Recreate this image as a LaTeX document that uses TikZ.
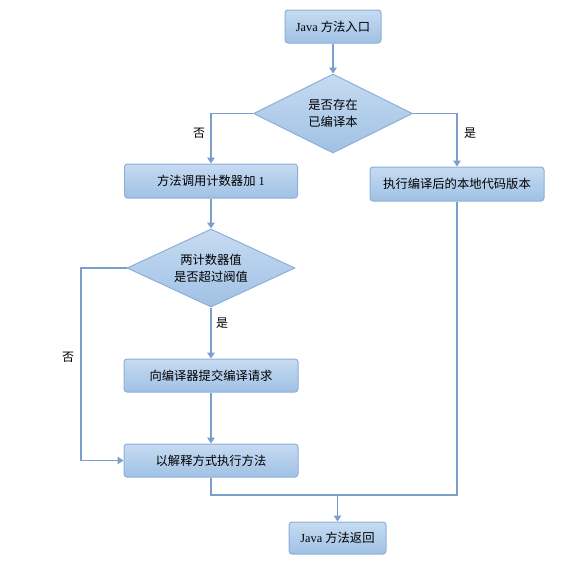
\documentclass[tikz,border=0pt]{standalone}
\usepackage{fontspec}
\setmainfont{Liberation Serif}
\newfontfamily\cjk{Noto Sans CJK SC}
\usetikzlibrary{arrows.meta,shapes.geometric}
\definecolor{linec}{HTML}{7B9FCA}
\definecolor{borderc}{HTML}{8DAFD9}
\definecolor{topc}{HTML}{C6DBF1}
\definecolor{botc}{HTML}{A0C1E5}
\tikzset{
  proc/.style={draw=borderc, line width=1pt, rounded corners=3pt, top color=topc, bottom color=botc, inner sep=0pt, font=\fontsize{12.3}{14}\selectfont},
  decis/.style={diamond, aspect=2, draw=borderc, line width=1pt, top color=topc, bottom color=botc, inner sep=0pt, align=center, font=\cjk\fontsize{12.3}{17}\selectfont},
  conn/.style={draw=linec, line width=1.4pt},
  arr/.style={conn, -{Triangle[length=6pt,width=7.5pt]}},
  lbl/.style={font=\cjk\fontsize{12}{14}\selectfont, inner sep=0pt}
}
\begin{document}
\begin{tikzpicture}[x=1pt,y=-1pt]
\useasboundingbox (0,0) rectangle (572,574);
\node[proc, minimum width=96pt, minimum height=33pt] (n1) at (333,26.5) {Java {\cjk 方法入口}};
\node[decis, minimum width=159pt, minimum height=79pt] (d1) at (333,113.5) {是否存在\\已编译本};
\node[proc, minimum width=173pt, minimum height=34pt] (n2) at (211,181) {{\cjk 方法调用计数器加} 1};
\node[proc, minimum width=174pt, minimum height=34pt] (n3) at (457,184) {\cjk 执行编译后的本地代码版本};
\node[decis, minimum width=168pt, minimum height=78pt] (d2) at (211,268) {两计数器值\\是否超过阀值};
\node[proc, minimum width=174pt, minimum height=33pt] (n4) at (211,375.5) {\cjk 向编译器提交编译请求};
\node[proc, minimum width=174pt, minimum height=33pt] (n5) at (211,460.5) {\cjk 以解释方式执行方法};
\node[proc, minimum width=97pt, minimum height=32pt] (n6) at (337.5,538) {Java {\cjk 方法返回}};

\node[lbl] (l1) at (199,133) {否};
\node[lbl] (l2) at (470,133) {是};
\node[lbl] (l3) at (222,323) {是};
\node[lbl] (l4) at (68,357) {否};

\coordinate (k) at (81,268);
\coordinate (j) at (337.5,495);

\draw[arr] (n1) -- (d1);
\draw[arr] (d1.west) -| (n2.north);
\draw[arr] (d1.east) -| (n3.north);
\draw[arr] (n2) -- (d2);
\draw[arr] (d2) -- (n4);
\draw[arr] (n4) -- (n5);
\draw[arr] (d2.west) -- (k) |- (n5.west);
\draw[conn] (n5.south) |- (j);
\draw[conn] (n3.south) |- (j);
\draw[arr] (j) -- (n6.north);
\end{tikzpicture}
\end{document}
